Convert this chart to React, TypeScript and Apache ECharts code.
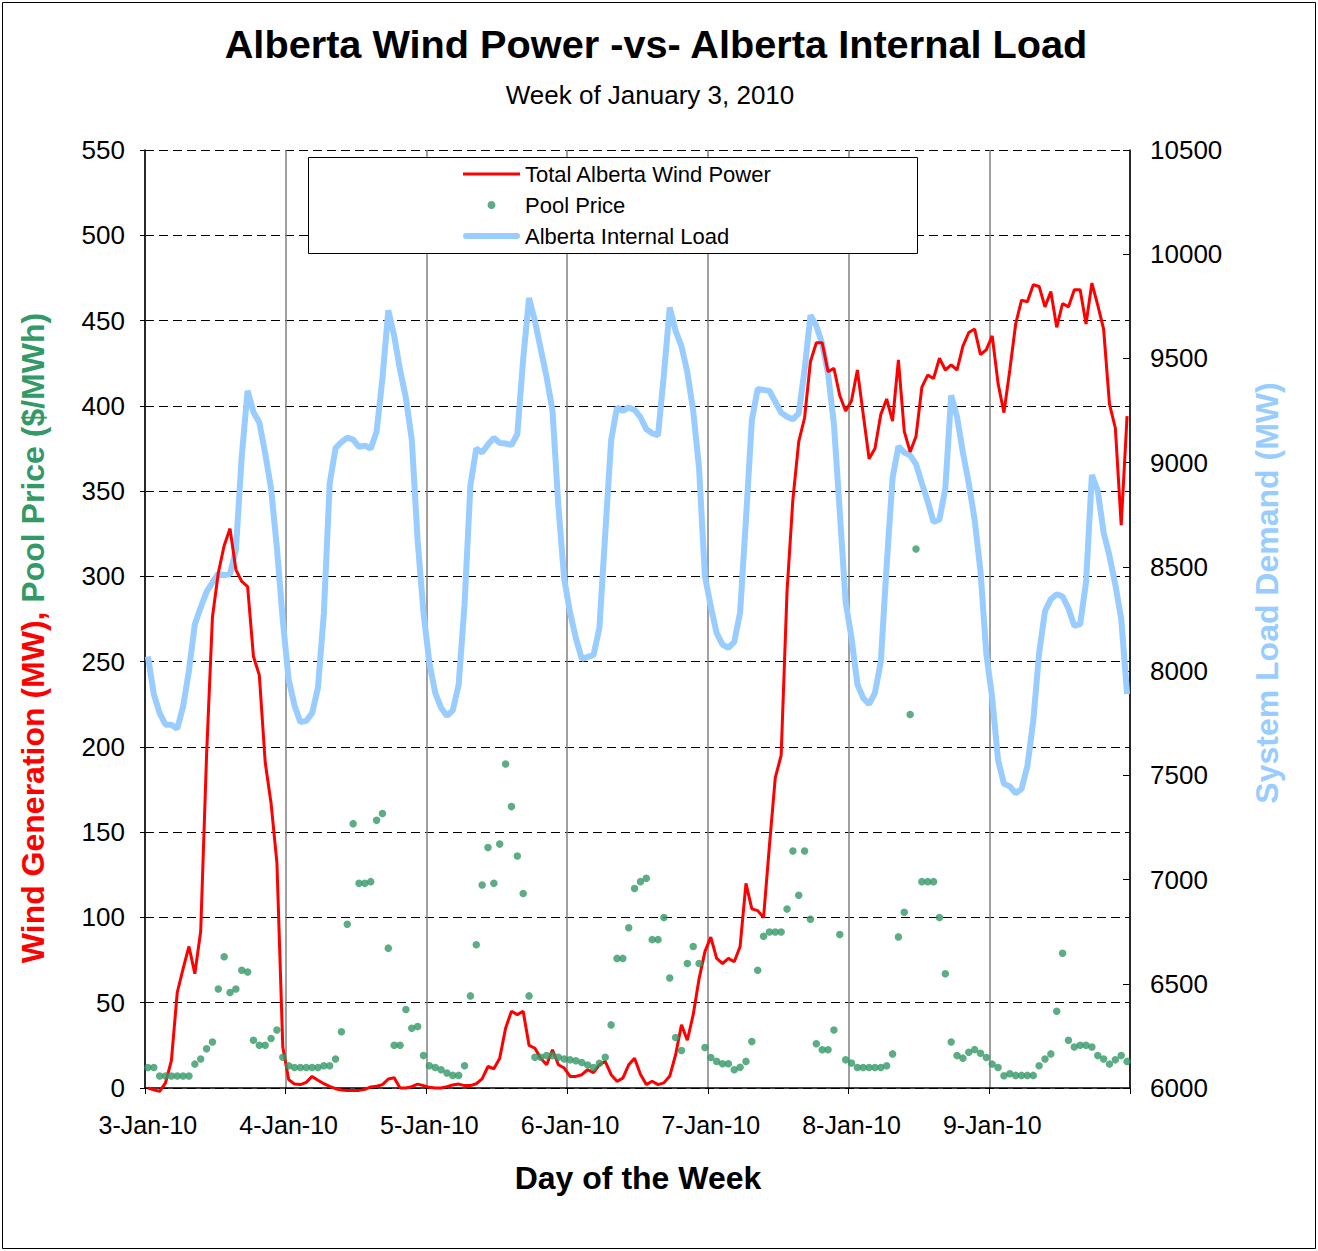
import React, { useEffect, useRef } from 'react';
import * as echarts from 'echarts';

const dayLabels = ['3-Jan-10', '4-Jan-10', '5-Jan-10', '6-Jan-10', '7-Jan-10', '8-Jan-10', '9-Jan-10'];
const hourLabels = ['00', '01', '02', '03', '04', '05', '06', '07', '08', '09', '10', '11', '12', '13', '14', '15', '16', '17', '18', '19', '20', '21', '22', '23'];

// Total Alberta Wind Power (MW), hourly, one row per day
const windPower = [
  0, -1, -2, 3, 16, 56, 70, 83, 67, 92, 195, 276, 302, 318, 328, 304, 297, 294, 253, 242, 191, 167, 132, 24,
  5, 2.3, 2, 3.3, 6.8, 4.5, 2.5, 1, -0.4, -1.2, -1.4, -1.4, -1.4, -0.8, 0.6, 1, 2, 5.3, 6, 0, 0, 0.8, 2.3, 1.4,
  0.4, 0, 0, 0.8, 1.8, 2.3, 1.4, 1.4, 2.5, 5.3, 12.6, 11.3, 17.5, 35, 45, 43, 45, 25, 23.3, 17.5, 13.6, 22.4, 13.6, 11.7,
  6.8, 6.8, 7.8, 10.7, 9, 13.6, 15.6, 7.8, 3.9, 5.8, 13.6, 17.5, 8, 2, 4, 2, 3, 7, 19.5, 37, 28, 43, 64, 80,
  88.5, 76, 73, 76, 74, 83, 120, 105, 104, 100, 142, 182, 195, 291, 345, 379, 393, 426, 437, 437, 420, 422, 406, 397,
  403, 421, 395, 369, 375, 395, 404, 391, 427, 385, 373, 382, 411, 418, 416, 428, 421, 424, 421, 435, 443, 445, 430, 433,
  441, 413, 396, 421, 448, 462, 461, 471, 470, 458, 467, 446, 460, 458, 468, 468, 448, 472, 459, 445, 401, 387, 330, 394,
];

// Pool Price ($/MWh), hourly
const poolPrice = [
  12, 12, 7, 7, 7, 7, 7, 7, 14, 17, 23, 27, 58, 77, 56, 58, 69, 68, 28, 25, 25, 29, 34, 18,
  13, 12, 12, 12, 12, 12, 13, 13, 17, 33, 96, 155, 120, 120, 121, 157, 161, 82, 25, 25, 46, 35, 36, 19,
  13, 12, 10.7, 8.8, 7.4, 7.4, 13, 54, 84, 119, 141, 120, 143, 190, 165, 136, 114, 54, 18, 18, 19, 19, 18, 17,
  16.5, 16, 15, 13.5, 12, 14.5, 18, 37, 76, 76, 94, 117, 121, 123, 87, 87, 100, 64.5, 29.6, 22, 73, 83, 73, 23.7,
  17.9, 15.6, 14.2, 14.2, 10.7, 12.1, 15.6, 27.2, 69, 89, 91.5, 91.5, 91.5, 105, 139, 113, 139, 99, 25.9, 22.4, 22.4, 34, 90, 16.5,
  14.6, 12, 12, 12, 12, 12, 13, 20, 88.6, 103, 219, 316, 121, 121, 121, 100, 67, 27, 19, 17.5, 21, 22.5, 20.4, 17.9,
  14, 12, 7.2, 8.4, 7.4, 7.4, 7.4, 7.4, 13, 17, 20, 45, 79, 28, 24, 25, 25, 24, 19, 17, 14, 16.5, 19, 15.6,
];

// Alberta Internal Load (MW), hourly
const internalLoad = [
  8070, 7890, 7798, 7743, 7743, 7723, 7830, 8003, 8225, 8305, 8380, 8425, 8467, 8460, 8467, 8580, 9030, 9345, 9242, 9193, 9044, 8876, 8591, 8244,
  7960, 7835, 7755, 7761, 7798, 7920, 8274, 8900, 9070, 9099, 9120, 9111, 9076, 9082, 9067, 9149, 9405, 9731, 9608, 9446, 9310, 9111, 8628, 8281,
  8040, 7896, 7824, 7785, 7812, 7935, 8320, 8890, 9068, 9049, 9087, 9119, 9094, 9092, 9085, 9136, 9496, 9790, 9680, 9545, 9410, 9250, 8795, 8442,
  8280, 8157, 8058, 8068, 8077, 8207, 8660, 9106, 9265, 9248, 9265, 9253, 9218, 9161, 9141, 9131, 9422, 9744, 9632, 9558, 9434, 9248, 8975, 8455,
  8310, 8182, 8127, 8112, 8140, 8281, 8728, 9203, 9354, 9349, 9344, 9292, 9240, 9220, 9208, 9236, 9446, 9707, 9657, 9570, 9427, 9186, 8764, 8331,
  8160, 7937, 7870, 7842, 7896, 8045, 8509, 8926, 9079, 9049, 9035, 8993, 8901, 8814, 8715, 8727, 8876, 9323, 9220, 9049, 8901, 8727, 8479, 8082,
  7870, 7572, 7460, 7447, 7414, 7435, 7545, 7761, 8087, 8288, 8345, 8369, 8358, 8301, 8217, 8225, 8426, 8941, 8865, 8665, 8552, 8414, 8251, 7890,
];

const FONT = '"Liberation Sans", Arial, sans-serif';
const RED = '#FF0000';
const GREEN = '#339966';
const BLUE = '#99CCFF';

const categories = dayLabels.flatMap((d) => hourLabels.map((h) => `${d} ${h}:00`));

export default function App() {
  const ref = useRef<HTMLDivElement>(null);

  useEffect(() => {
    if (!ref.current) return;
    const chart = echarts.init(ref.current, undefined, { renderer: 'svg' });
    chart.setOption({
      animation: false,
      backgroundColor: '#ffffff',
      grid: { left: 145, right: 188, top: 150, bottom: 163, containLabel: false },
      legend: {
        orient: 'vertical',
        left: 463,
        top: 163,
        padding: 0,
        itemWidth: 57,
        itemHeight: 8,
        itemGap: 9,
        z: 10,
        textStyle: { fontFamily: FONT, fontSize: 22, color: '#000', lineHeight: 22 },
        data: [
          { name: 'Total Alberta Wind Power', icon: 'path://M0,0H57V3H0Z' },
          { name: 'Pool Price', icon: 'circle' },
          { name: 'Alberta Internal Load', icon: 'path://M3,0H54A3,3 0 0 1 54,6H3A3,3 0 0 1 3,0Z' },
        ],
      },
      xAxis: {
        type: 'category',
        data: categories,
        boundaryGap: true,
        axisLine: { show: true, lineStyle: { color: '#000', width: 1.5 } },
        axisTick: { show: true, interval: 23, length: 6, inside: false, lineStyle: { color: '#000' } },
        axisLabel: {
          interval: 23,
          margin: 24,
          fontFamily: FONT,
          fontSize: 25,
          color: '#000',
          formatter: (v: string) => v.split(' ')[0],
        },
        splitLine: { show: true, interval: 23, lineStyle: { color: '#808080', width: 1.5 } },
      },
      yAxis: [
        {
          type: 'value',
          min: 0,
          max: 550,
          interval: 50,
          axisLine: { show: true, lineStyle: { color: '#000', width: 1.5 } },
          axisTick: { show: true, length: 5, lineStyle: { color: '#000' } },
          axisLabel: { margin: 20, fontFamily: FONT, fontSize: 26, color: '#000' },
          splitLine: { show: true, lineStyle: { color: '#000', width: 1, type: [9, 5] } },
        },
        {
          type: 'value',
          min: 6000,
          max: 10500,
          interval: 500,
          position: 'right',
          axisLine: { show: true, lineStyle: { color: '#000', width: 1.5 } },
          axisTick: { show: true, inside: true, length: 7, lineStyle: { color: '#000' } },
          axisLabel: {
            margin: 20,
            fontFamily: FONT,
            fontSize: 26,
            color: '#000',
            formatter: (v: number) => String(v),
          },
          splitLine: { show: false },
        },
      ],
      series: [
        {
          name: 'Total Alberta Wind Power',
          type: 'line',
          yAxisIndex: 0,
          data: windPower,
          symbol: 'none',
          clip: false,
          z: 3,
          lineStyle: { color: RED, width: 3 },
          itemStyle: { color: RED },
        },
        {
          name: 'Pool Price',
          type: 'scatter',
          yAxisIndex: 0,
          data: poolPrice,
          symbol: 'circle',
          symbolSize: 7.5,
          z: 4,
          itemStyle: { color: GREEN },
        },
        {
          name: 'Alberta Internal Load',
          type: 'line',
          yAxisIndex: 1,
          data: internalLoad,
          symbol: 'none',
          z: 2,
          lineStyle: { color: BLUE, width: 6 },
          itemStyle: { color: BLUE },
        },
      ],
      graphic: [
        {
          type: 'rect',
          z: 0,
          silent: true,
          shape: { x: 2.5, y: 2.5, width: 1313, height: 1246 },
          style: { fill: 'none', stroke: '#000', lineWidth: 1 },
        },
        {
          type: 'rect',
          z: 9,
          silent: true,
          shape: { x: 308.5, y: 157.5, width: 609, height: 96 },
          style: { fill: '#ffffff', stroke: '#000', lineWidth: 1 },
        },
        {
          type: 'text',
          x: 656,
          y: 44,
          silent: true,
          style: {
            text: 'Alberta Wind Power -vs- Alberta Internal Load',
            fontFamily: FONT,
            fontSize: 39.7,
            fontWeight: 'bold',
            fill: '#000',
            align: 'center',
            verticalAlign: 'middle',
          },
        },
        {
          type: 'text',
          x: 650,
          y: 95,
          silent: true,
          style: {
            text: 'Week of January 3, 2010',
            fontFamily: FONT,
            fontSize: 26,
            fill: '#000',
            align: 'center',
            verticalAlign: 'middle',
          },
        },
        {
          type: 'text',
          x: 638,
          y: 1178,
          silent: true,
          style: {
            text: 'Day of the Week',
            fontFamily: FONT,
            fontSize: 32,
            fontWeight: 'bold',
            fill: '#000',
            align: 'center',
            verticalAlign: 'middle',
          },
        },
        {
          type: 'text',
          x: 33,
          y: 638,
          rotation: Math.PI / 2,
          silent: true,
          style: {
            text: '{r|Wind Generation (MW),} {g|Pool Price ($/MWh)}',
            fontFamily: FONT,
            fontSize: 32,
            fontWeight: 'bold',
            fill: RED,
            align: 'center',
            verticalAlign: 'middle',
            rich: {
              r: { fill: RED, fontFamily: FONT, fontSize: 32, fontWeight: 'bold' },
              g: { fill: GREEN, fontFamily: FONT, fontSize: 32, fontWeight: 'bold' },
            },
          },
        },
        {
          type: 'text',
          x: 1267,
          y: 593,
          rotation: Math.PI / 2,
          silent: true,
          style: {
            text: 'System Load Demand (MW)',
            fontFamily: FONT,
            fontSize: 32,
            fontWeight: 'bold',
            fill: BLUE,
            align: 'center',
            verticalAlign: 'middle',
          },
        },
      ],
    });
    return () => chart.dispose();
  }, []);

  return (
    <div
      ref={ref}
      style={{ position: 'fixed', left: 0, top: 0, width: 1318, height: 1251, background: '#fff' }}
    />
  );
}
